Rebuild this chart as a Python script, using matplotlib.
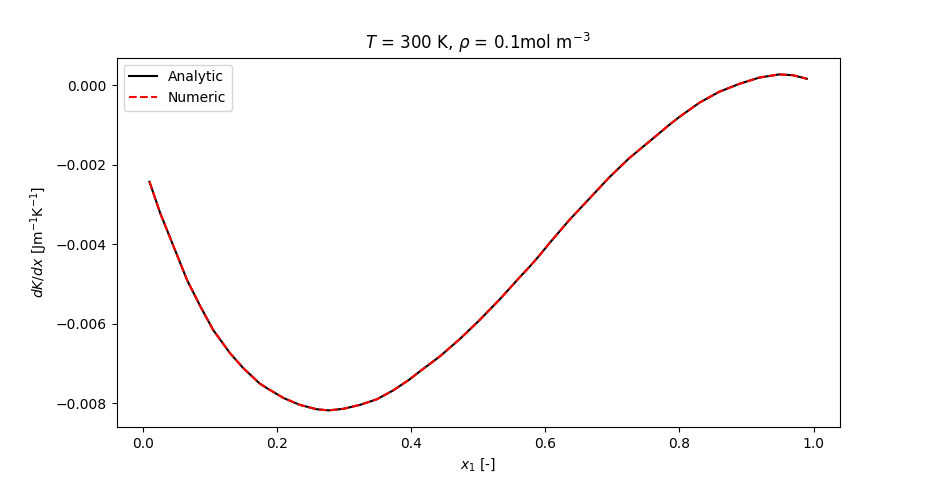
import matplotlib
matplotlib.use("Agg")
import matplotlib.pyplot as plt

# values
x1 = [0.010, 0.026, 0.046, 0.066, 0.086, 0.105, 0.130, 0.150, 0.174, 0.185,
      0.210, 0.234, 0.259, 0.277, 0.299, 0.324, 0.349, 0.373, 0.397, 0.413,
      0.443, 0.473, 0.502, 0.532, 0.562, 0.577, 0.591, 0.606, 0.636, 0.666,
      0.696, 0.725, 0.755, 0.770, 0.784, 0.800, 0.830, 0.859, 0.889, 0.919,
      0.949, 0.969, 0.990]
dKdx_analytic = [-0.00243, -0.00322, -0.00406, -0.00490, -0.00557, -0.00616,
                 -0.00674, -0.00712, -0.00750, -0.00762, -0.00787, -0.00804,
                 -0.00815, -0.00818, -0.00814, -0.00804, -0.00790, -0.00768,
                 -0.00741, -0.00720, -0.00682, -0.00638, -0.00591, -0.00539,
                 -0.00483, -0.00456, -0.00429, -0.00398, -0.00339, -0.00285,
                 -0.00231, -0.00184, -0.00142, -0.00121, -0.00101, -0.00080,
                 -0.00044, -0.00017, 0.00003, 0.00019, 0.00027, 0.00025,
                 0.00016]
dKdx_numeric = list(dKdx_analytic)

fig, ax = plt.subplots(figsize=(9.33, 4.8), dpi=100)

ax.plot(x1, dKdx_analytic, color="black", label="Analytic")
ax.plot(x1, dKdx_numeric, color="red", linestyle="--", label="Numeric")

ax.set_title(r"$T$ = 300 K, $\rho$ = 0.1mol m$^{-3}$")
ax.set_xlabel(r"$x_1$ [-]")
ax.set_ylabel(r"$dK/dx$ [Jm$^{-1}$K$^{-1}$]")
ax.legend(loc="upper left")

fig.savefig("out.png")
